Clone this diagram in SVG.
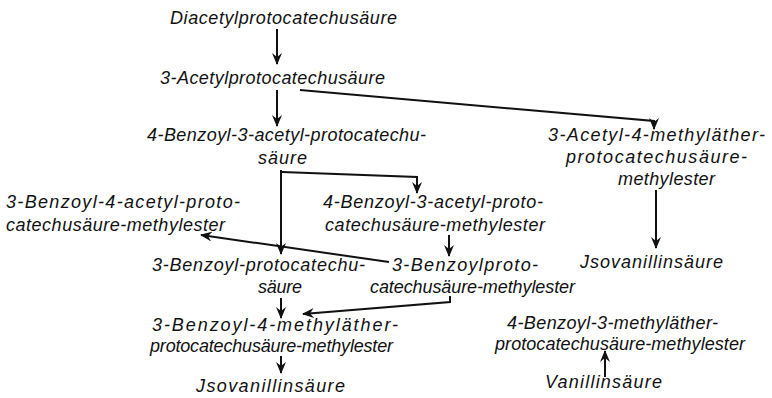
<svg xmlns="http://www.w3.org/2000/svg" width="772" height="398" viewBox="0 0 772 398">
<defs>
<style>
text{font-family:"Liberation Sans","DejaVu Sans",sans-serif;font-style:italic;font-size:18px;fill:#111}
.c{fill:none;stroke:#111;stroke-width:2}
</style>
<marker id="ah" viewBox="0 0 12 10" refX="11" refY="5" markerWidth="12" markerHeight="10" markerUnits="userSpaceOnUse" orient="auto">
<path d="M0,0 L12,5 L0,10 L4,5 Z" fill="#111"/>
</marker>
</defs>
<rect width="772" height="398" fill="#fff"/>
<g id="connectors">
<path class="c" d="M277,29 V64" marker-end="url(#ah)"/>
<path class="c" d="M277,90 V126" marker-end="url(#ah)"/>
<path class="c" d="M300,90 L654,121 V129" marker-end="url(#ah)"/>
<path class="c" d="M281,170 V254" marker-end="url(#ah)"/>
<path class="c" d="M282,172 L417,177 V193" marker-end="url(#ah)"/>
<path class="c" d="M389,262 L201,235" marker-end="url(#ah)"/>
<path class="c" d="M449,235 V256" marker-end="url(#ah)"/>
<path class="c" d="M281,298 V318" marker-end="url(#ah)"/>
<path class="c" d="M450,296 V302 L303,314" marker-end="url(#ah)"/>
<path class="c" d="M281,356 V373" marker-end="url(#ah)"/>
<path class="c" d="M656,190 V248" marker-end="url(#ah)"/>
<path class="c" d="M605,377 V351" marker-end="url(#ah)"/>
</g>
<g id="n1"><text x="170" y="24" textLength="227" lengthAdjust="spacing">Diacetylprotocatechusäure</text></g>
<g id="n2"><text x="160" y="84" textLength="225" lengthAdjust="spacing">3-Acetylprotocatechusäure</text></g>
<g id="n3"><text x="147" y="141" textLength="279" lengthAdjust="spacing">4-Benzoyl-3-acetyl-protocatechu-</text><text x="258" y="164" textLength="49" lengthAdjust="spacing">säure</text></g>
<g id="n4"><text x="548" y="141" textLength="217" lengthAdjust="spacing">3-Acetyl-4-methyläther-</text><text x="566" y="163" textLength="181" lengthAdjust="spacing">protocatechusäure-</text><text x="618" y="185" textLength="97" lengthAdjust="spacing">methylester</text></g>
<g id="n5"><text x="6" y="208" textLength="234" lengthAdjust="spacing">3-Benzoyl-4-acetyl-proto-</text><text x="6" y="231" textLength="219" lengthAdjust="spacing">catechusäure-methylester</text></g>
<g id="n6"><text x="323" y="208" textLength="220" lengthAdjust="spacing">4-Benzoyl-3-acetyl-proto-</text><text x="325" y="231" textLength="220" lengthAdjust="spacing">catechusäure-methylester</text></g>
<g id="n7"><text x="152" y="271" textLength="213" lengthAdjust="spacing">3-Benzoyl-protocatechu-</text><text x="258" y="293" textLength="44" lengthAdjust="spacing">säure</text></g>
<g id="n8"><text x="392" y="271" textLength="146" lengthAdjust="spacing">3-Benzoylproto-</text><text x="370" y="293" textLength="205" lengthAdjust="spacing">catechusäure-methylester</text></g>
<g id="n9"><text x="580" y="268" textLength="143" lengthAdjust="spacing">Jsovanillinsäure</text></g>
<g id="n10"><text x="152" y="331" textLength="246" lengthAdjust="spacing">3-Benzoyl-4-methyläther-</text><text x="150" y="352" textLength="243" lengthAdjust="spacing">protocatechusäure-methylester</text></g>
<g id="n11"><text x="196" y="392" textLength="149" lengthAdjust="spacing">Jsovanillinsäure</text></g>
<g id="n12"><text x="507" y="329" textLength="211" lengthAdjust="spacing">4-Benzoyl-3-methyläther-</text><text x="495" y="350" textLength="250" lengthAdjust="spacing">protocatechusäure-methylester</text></g>
<g id="n13"><text x="545" y="388" textLength="117" lengthAdjust="spacing">Vanillinsäure</text></g>
</svg>
